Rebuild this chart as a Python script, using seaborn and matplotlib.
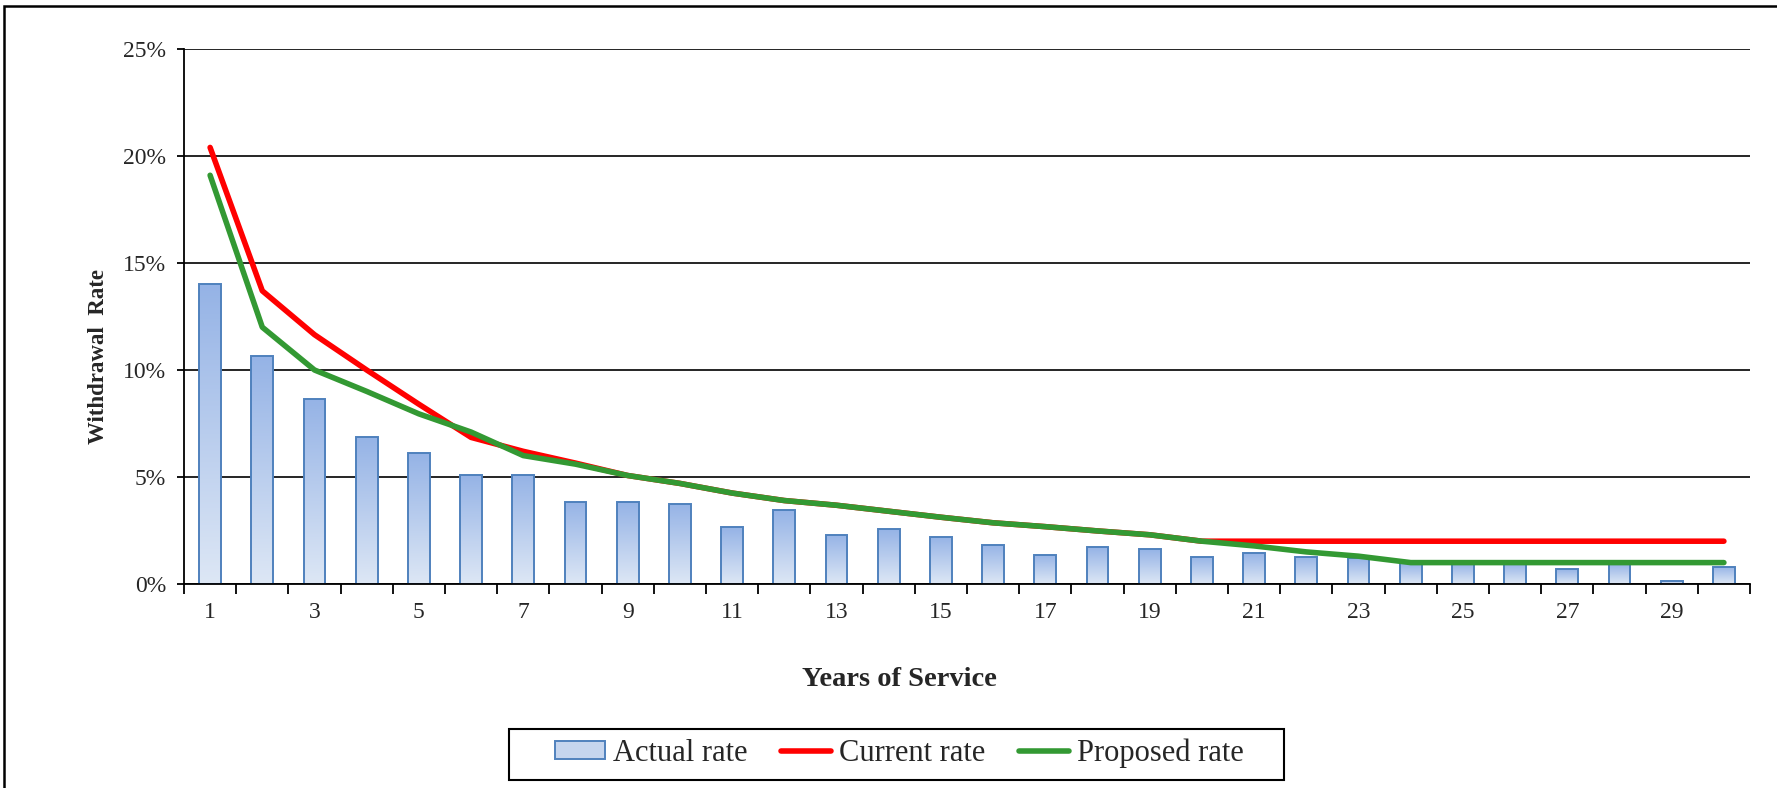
import numpy as np
import pandas as pd
import matplotlib
matplotlib.use("Agg")
import matplotlib.pyplot as plt
import seaborn as sns
from matplotlib.colors import LinearSegmentedColormap
from matplotlib.patches import Rectangle, Patch
from matplotlib.lines import Line2D

# data (percent)
years = list(range(1, 31))
actual_rate = [14.0, 10.65, 8.65, 6.85, 6.1, 5.1, 5.1, 3.85, 3.82, 3.75,
               2.65, 3.45, 2.3, 2.55, 2.2, 1.83, 1.37, 1.72, 1.63, 1.27,
               1.44, 1.27, 1.2, 0.98, 0.98, 0.98, 0.7, 0.98, 0.16, 0.8]
current_rate = [20.4, 13.7, 11.65, 10.0, 8.4, 6.85, 6.2, 5.65, 5.07, 4.7,
                4.25, 3.9, 3.68, 3.4, 3.12, 2.86, 2.68, 2.48, 2.3, 2.0,
                2.0, 2.0, 2.0, 2.0, 2.0, 2.0, 2.0, 2.0, 2.0, 2.0]
proposed_rate = [19.1, 12.0, 10.0, 9.0, 7.95, 7.1, 6.0, 5.6, 5.07, 4.7,
                 4.25, 3.9, 3.68, 3.4, 3.12, 2.86, 2.68, 2.48, 2.3, 2.0,
                 1.78, 1.5, 1.3, 1.0, 1.0, 1.0, 1.0, 1.0, 1.0, 1.0]
y_ticks = [0, 5, 10, 15, 20, 25]
x_labels = [str(y) for y in range(1, 31, 2)]

df = pd.DataFrame({"year": years, "actual": actual_rate,
                   "current": current_rate, "proposed": proposed_rate})

sns.set_style("white")
plt.rcParams["font.family"] = ["Liberation Serif", "DejaVu Serif"]

fig = plt.figure(figsize=(17.77, 7.88), dpi=100)
ax = fig.add_axes([184 / 1777, 1 - 584 / 788, (1750 - 184) / 1777, (584 - 49) / 788])

edge_blue = "#4f81bd"
sns.barplot(data=df, x="year", y="actual", native_scale=True, width=0.42,
            color="#c5d5ee", edgecolor=edge_blue, linewidth=1.4, ax=ax, zorder=2)

# vertical gradient fill for the bars
grad = LinearSegmentedColormap.from_list("g", ["#dde7f5", "#95b3e6"])
for p in ax.patches:
    x0, y0 = p.get_x(), p.get_y()
    w, h = p.get_width(), p.get_height()
    im = ax.imshow(np.linspace(0, 1, 128).reshape(-1, 1), cmap=grad, origin="lower",
                   extent=[x0, x0 + w, y0, y0 + h], aspect="auto", zorder=1.9)
    im.set_clip_path(p)
    p.set_facecolor("none")

sns.lineplot(data=df, x="year", y="current", color="#ff0000", linewidth=4.0,
             ax=ax, zorder=4, solid_capstyle="round", solid_joinstyle="round")
sns.lineplot(data=df, x="year", y="proposed", color="#339933", linewidth=4.0,
             ax=ax, zorder=5, solid_capstyle="round", solid_joinstyle="round")

ax.set_xlim(0.5, 30.5)
ax.set_ylim(0, 25)
ax.set_yticks(y_ticks)
ax.set_yticklabels([f"{t}%" for t in y_ticks])
ax.set_xticks(np.arange(0.5, 31, 1))
ax.set_xticklabels([])
ax.set_xticks(range(1, 31, 2), minor=True)
ax.set_xticklabels(x_labels, minor=True)
ax.tick_params(axis="x", which="major", direction="out", length=7, width=1.3,
               color="black", bottom=True)
ax.tick_params(axis="x", which="minor", length=0, pad=13, labelsize=17)
ax.tick_params(axis="y", direction="out", length=5, width=1.3, color="black",
               left=True, pad=8, labelsize=17)

ax.grid(axis="y", color="black", linewidth=1.2)
ax.grid(axis="x", visible=False)
ax.set_axisbelow(True)
for s in ["top", "right"]:
    ax.spines[s].set_visible(False)
for s in ["left", "bottom"]:
    ax.spines[s].set_color("black")
    ax.spines[s].set_linewidth(1.3)
    ax.spines[s].set_zorder(6)

ax.set_xlabel("Years of Service", fontsize=20.5, fontweight="bold")
ax.set_ylabel("Withdrawal  Rate", fontsize=16.5, fontweight="bold")
ax.xaxis.set_label_coords((899 - 184) / 1566, (584 - 680) / 535)
ax.xaxis.label.set_va("center")
ax.yaxis.set_label_coords((98 - 184) / 1566, (584 - 356) / 535)
ax.yaxis.label.set_va("center")

handles = [Patch(facecolor="#c5d5ee", edgecolor=edge_blue, linewidth=1.4),
           Line2D([], [], color="#ff0000", linewidth=4.0, solid_capstyle="round"),
           Line2D([], [], color="#339933", linewidth=4.0, solid_capstyle="round")]
leg = fig.legend(handles, ["Actual rate", "Current rate", "Proposed rate"],
                 loc="center", bbox_to_anchor=(899 / 1777, 1 - 753 / 788), ncol=3,
                 fontsize=22, frameon=False, handlelength=1.65, handleheight=0.55,
                 handletextpad=0.25, columnspacing=1.1, borderpad=0.25)

# legend box drawn separately: wider side padding than matplotlib allows
fig.patches.append(Rectangle((509 / 1777, 1 - 780 / 788), (1284 - 509) / 1777, 51 / 788,
                             transform=fig.transFigure, fill=False,
                             edgecolor="black", linewidth=1.5))

# chart area border (only top and left edges fall inside the picture)
fig.patches.append(Rectangle((4 / 1777, -0.1), 1.2, 1.1 - 6 / 788, transform=fig.transFigure,
                             fill=False, edgecolor="black", linewidth=1.8))

fig.savefig("out.png", dpi=100)
